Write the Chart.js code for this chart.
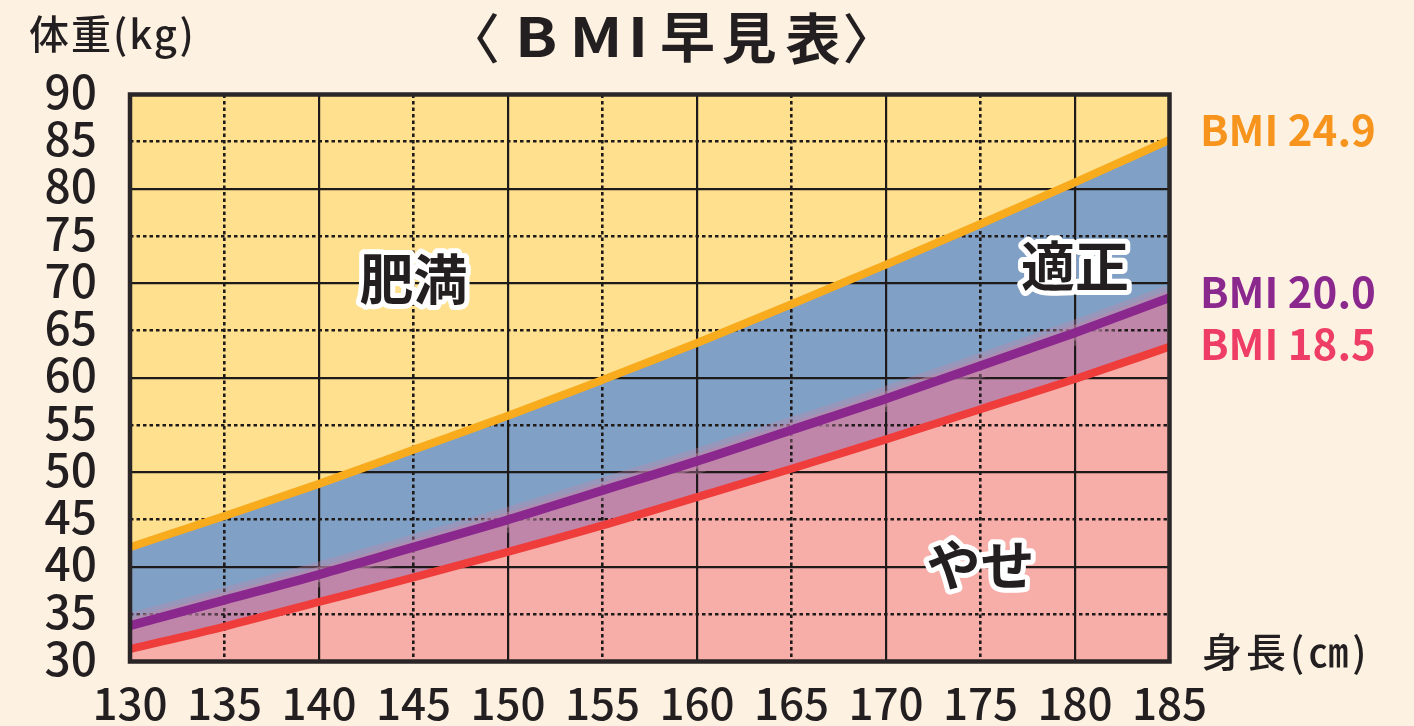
<!DOCTYPE html>
<html lang="ja">
<head>
<meta charset="utf-8">
<script src="https://cdn.jsdelivr.net/npm/chart.js@4.4.1/dist/chart.umd.min.js"></script>
<style>
html,body{margin:0;padding:0;background:#fdf1e2;}
#wrap{width:1414px;height:726px;position:relative;}
</style>
</head>
<body>
<div id="wrap"><canvas id="c" width="1414" height="726"></canvas></div>
<script>
// ---- data ----
const heights = [130, 135, 140, 145, 150, 155, 160, 165, 170, 175, 180, 185];
const bmi249 = [42.1, 45.4, 48.8, 52.4, 56.0, 59.8, 63.7, 67.8, 72.0, 76.3, 80.7, 85.2];
const bmi200 = [33.8, 36.5, 39.2, 42.1, 45.0, 48.1, 51.2, 54.5, 57.8, 61.3, 64.8, 68.5];
const bmi185 = [31.3, 33.7, 36.3, 38.9, 41.6, 44.4, 47.4, 50.4, 53.5, 56.7, 59.9, 63.3];
const seriesNames = ['BMI 24.9', 'BMI 20.0', 'BMI 18.5'];
const xRange = [130, 185];
const yRange = [30, 90];
const tickStep = 5;
const titleParts = ['〈', 'B', 'M', 'I', '早', '見', '表', '〉'];
const yTitle = '体重(kg)';
const xTitle = '身長(㎝)';
const zones = [
  {text: '肥満', x: 145, y: 70.4},
  {text: '適正', x: 180, y: 71.8},
  {text: 'やせ', x: 175, y: 40.2}
];

const FONT = "'Noto Sans CJK JP', 'Noto Sans', sans-serif";
const INK = '#231f20';

const pts = arr => heights.map((h, i) => ({x: h, y: arr[i]}));

const colors = {
  yellow: '#fee08f',
  blue: '#80a0c5',
  mauve: '#c086aa',
  pink: '#f7ada8',
  orange: '#f8ab1d',
  purple: '#8b288e',
  red: '#ee3d3a'
};

const isMajor = ctx => ctx.tick && Math.round(ctx.tick.value) % 10 === 0;

function inkCentered(ctx, t, cx, cy, sx) {
  ctx.save();
  ctx.textAlign = 'left';
  ctx.textBaseline = 'alphabetic';
  const m = ctx.measureText(t);
  const w = m.actualBoundingBoxRight + m.actualBoundingBoxLeft;
  ctx.translate(cx, cy + (m.actualBoundingBoxAscent - m.actualBoundingBoxDescent) / 2);
  ctx.scale(sx, 1);
  ctx.fillText(t, -w / 2 + m.actualBoundingBoxLeft, 0);
  ctx.restore();
}

const decorPlugin = {
  id: 'decor',
  afterDatasetsDraw(chart) {
    const {ctx, chartArea: a, scales} = chart;
    ctx.save();
    // frame
    ctx.strokeStyle = '#2a2526';
    ctx.lineWidth = 4.5;
    ctx.strokeRect(a.left, a.top, a.right - a.left, a.bottom - a.top);
    // zone labels
    ctx.font = 'bold 54px ' + FONT;
    ctx.textAlign = 'center';
    ctx.textBaseline = 'middle';
    ctx.lineJoin = 'round';
    zones.forEach(z => {
      const px = scales.x.getPixelForValue(z.x);
      const py = scales.y.getPixelForValue(z.y);
      ctx.lineWidth = 10;
      ctx.strokeStyle = '#ffffff';
      ctx.strokeText(z.text, px, py);
      ctx.fillStyle = INK;
      ctx.fillText(z.text, px, py);
    });
    ctx.restore();
  },
  afterDraw(chart) {
    const {ctx} = chart;
    ctx.save();
    ctx.fillStyle = INK;
    // title, piece by piece
    const centers = [487.5, 537.5, 596, 637.5, 687.5, 749, 812.5, 855];
    titleParts.forEach((t, i) => {
      let sx = 1;
      if (i >= 1 && i <= 3) { ctx.font = 'bold 54px ' + FONT; sx = 1.15; }
      else if (i === 0 || i === 7) ctx.font = '500 54px ' + FONT;
      else ctx.font = 'bold 55px ' + FONT;
      inkCentered(ctx, t, centers[i], (i >= 1 && i <= 3) ? 36.5 : 38, sx);
    });
    // axis titles
    ctx.font = '500 40px ' + FONT;
    ctx.textAlign = 'left';
    ctx.textBaseline = 'middle';
    ctx.letterSpacing = '2px';
    ctx.fillText(yTitle, 29, 34);
    ctx.letterSpacing = '4px';
    ctx.fillText(xTitle, 1202, 652);
    ctx.letterSpacing = '0px';
    // series labels at right
    ctx.font = 'bold 42px ' + FONT;
    const labelCols = ['#f7941d', colors.purple, '#ee3d66'];
    const labelY = [130, 292, 344];
    seriesNames.forEach((n, i) => {
      ctx.fillStyle = labelCols[i];
      ctx.fillText(n, 1200, labelY[i]);
    });
    ctx.restore();
  }
};

new Chart(document.getElementById('c'), {
  type: 'line',
  data: {
    datasets: [
      // visible lines (index 0 drawn on top)
      {label: seriesNames[0], data: pts(bmi249), borderColor: colors.orange, borderWidth: 8,
       fill: 'end', backgroundColor: colors.yellow},
      {label: seriesNames[1], data: pts(bmi200), borderColor: colors.purple, borderWidth: 9,
       fill: false},
      {label: seriesNames[2], data: pts(bmi185), borderColor: colors.red, borderWidth: 8,
       fill: false},
      // soft glow above the BMI 20 line
      {label: 'glow2', data: pts(bmi200), borderColor: 'rgba(192,134,170,0.5)', borderWidth: 15,
       fill: false},
      {label: 'glow1', data: pts(bmi200), borderColor: 'rgba(192,134,170,0.35)', borderWidth: 25,
       fill: false},
      // zone fills, painted bottom-up (last index painted first)
      {label: 'zone pink', data: pts(bmi185), borderWidth: 0, borderColor: 'rgba(0,0,0,0)',
       fill: 'start', backgroundColor: colors.pink},
      {label: 'zone mauve', data: pts(bmi200), borderWidth: 0, borderColor: 'rgba(0,0,0,0)',
       fill: 'start', backgroundColor: colors.mauve},
      {label: 'zone blue', data: pts(bmi249), borderWidth: 0, borderColor: 'rgba(0,0,0,0)',
       fill: 'start', backgroundColor: colors.blue}
    ]
  },
  options: {
    responsive: false,
    devicePixelRatio: 1,
    animation: false,
    events: [],
    layout: {padding: {top: 94.5, right: 244.5, left: 0, bottom: 0}},
    elements: {
      point: {radius: 0},
      line: {cubicInterpolationMode: 'monotone', borderCapStyle: 'butt'}
    },
    plugins: {
      legend: {display: false},
      tooltip: {enabled: false},
      filler: {drawTime: 'beforeDraw', propagate: false}
    },
    scales: {
      x: {
        type: 'linear',
        min: xRange[0], max: xRange[1],
        afterFit: s => { s.height = 726 - 661.5; },
        ticks: {stepSize: tickStep, color: INK, padding: 15,
                font: {family: FONT, size: 44, weight: '500'}, maxRotation: 0, autoSkip: false},
        grid: {drawTicks: false, color: '#1e1a1a',
               lineWidth: ctx => isMajor(ctx) ? 2.2 : 2.6},
        border: {display: false, dash: ctx => (ctx.tick && !isMajor(ctx)) ? [3.5, 3] : []}
      },
      y: {
        type: 'linear',
        min: yRange[0], max: yRange[1],
        afterFit: s => { s.width = 130; },
        ticks: {stepSize: tickStep, color: INK, padding: 33, labelOffset: -3,
                font: {family: FONT, size: 46, weight: '500'}, autoSkip: false},
        grid: {drawTicks: false, color: '#1e1a1a',
               lineWidth: ctx => isMajor(ctx) ? 2.2 : 2.6},
        border: {display: false, dash: ctx => (ctx.tick && !isMajor(ctx)) ? [3.5, 3] : []}
      }
    }
  },
  plugins: [decorPlugin]
});
</script>
</body>
</html>
